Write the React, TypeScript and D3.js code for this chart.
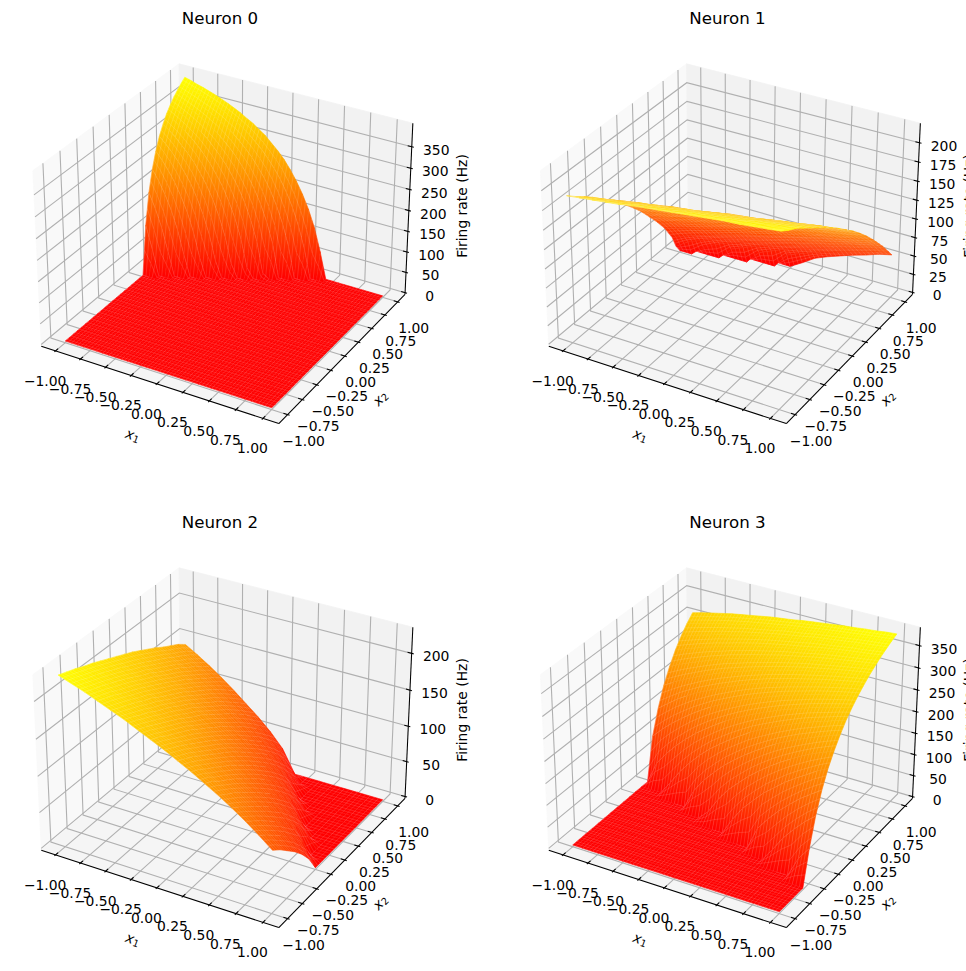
import {useEffect, useRef} from 'react';
import * as d3 from 'd3';

const WIDTH = 966;
const HEIGHT = 971;

const axisTicks = [-1, -0.75, -0.5, -0.25, 0, 0.25, 0.5, 0.75, 1];
const panelTitles = ['Neuron 0', 'Neuron 1', 'Neuron 2', 'Neuron 3'];
const zTicks = [
  [0, 50, 100, 150, 200, 250, 300, 350],
  [0, 25, 50, 75, 100, 125, 150, 175, 200],
  [0, 50, 100, 150, 200],
  [0, 50, 100, 150, 200, 250, 300, 350],
];
const zRanges = [
  [-4, 404],
  [-2.5, 225],
  [-2.5, 235],
  [-4, 391],
];

// rates in Hz, rows run along x2 (see the row lists), columns x1 = -1..1, cells left out are 0
const neuron0Rates = [
  [], [], [], [], [], [], [], [], [], [], [], [], [], [], [], [], [], [], [], [], [],
  [115, 61],
  [186, 152, 110, 56],
  [234, 211, 183, 149, 106, 50],
  [270, 253, 232, 209, 180, 146, 102, 44],
  [298, 284, 269, 251, 230, 207, 177, 141, 97, 37],
  [319, 309, 297, 282, 267, 250, 228, 204, 174, 138, 93, 31],
  [337, 328, 318, 308, 296, 282, 266, 248, 226, 202, 171, 135, 88, 23],
  [351, 344, 336, 327, 317, 307, 295, 280, 264, 246, 224, 199, 169, 131, 84, 10],
  [363, 357, 350, 343, 335, 326, 316, 306, 293, 279, 263, 244, 223, 197, 166, 128, 79],
  [373, 368, 362, 356, 349, 342, 334, 326, 315, 305, 292, 278, 262, 242, 221, 195, 163, 124, 74],
  [382, 377, 372, 367, 361, 356, 349, 342, 333, 325, 315, 304, 291, 277, 260, 241, 219, 192, 160, 120, 69],
  [390, 386, 381, 377, 372, 367, 361, 355, 348, 341, 332, 324, 313, 303, 289, 275, 259, 239, 216, 189, 157, 117, 63],
];

const neuron1Rates = [
  [187, 189, 191, 193, 195, 198, 200, 202, 204, 206, 208, 210, 212, 213, 215, 217, 219],
  [178, 181, 183, 185, 187, 190, 192, 194, 196, 199, 201, 203, 205, 207, 209, 210, 212],
  [170, 172, 174, 177, 179, 182, 184, 186, 189, 191, 193, 195, 197, 200, 202, 204, 206],
  [161, 163, 166, 168, 171, 173, 176, 178, 180, 183, 185, 187, 189, 192, 194, 196, 198],
  [151, 154, 157, 160, 162, 164, 167, 169, 172, 175, 177, 179, 181, 183, 186, 188, 190],
  [141, 144, 147, 150, 153, 156, 158, 160, 163, 166, 168, 170, 173, 175, 178, 180, 182],
  [130, 134, 137, 139, 142, 145, 148, 151, 154, 157, 159, 161, 164, 167, 169, 171, 174],
  [119, 122, 125, 129, 132, 135, 138, 141, 143, 146, 149, 152, 155, 157, 160, 163, 165],
  [107, 111, 114, 117, 120, 124, 126, 130, 133, 136, 139, 141, 144, 148, 151, 153, 156],
  [94, 97, 101, 104, 108, 112, 115, 119, 122, 125, 128, 131, 134, 137, 140, 143, 146],
  [79, 83, 87, 92, 95, 99, 103, 106, 110, 114, 117, 120, 123, 126, 130, 133, 136],
  [64, 69, 73, 77, 81, 85, 89, 93, 97, 101, 104, 108, 112, 115, 118, 121, 125],
  [47, 52, 57, 61, 66, 71, 75, 79, 83, 87, 91, 95, 98, 102, 105, 109, 113],
  [26, 33, 39, 44, 49, 54, 59, 63, 68, 72, 76, 80, 85, 88, 92, 96, 100],
  [10, 21, 28, 34, 40, 45, 50, 55, 59, 64, 69, 73, 77, 81, 85, 89, 93],
  [0, 0, 14, 23, 30, 35, 41, 46, 51, 56, 60, 65, 69, 74, 78, 82, 86],
  [0, 0, 0, 0, 17, 24, 31, 37, 42, 47, 52, 57, 61, 66, 71, 75, 79],
  [0, 0, 0, 0, 0, 0, 18, 25, 32, 38, 43, 48, 53, 58, 62, 67, 71],
  [0, 0, 0, 0, 0, 0, 0, 0, 20, 27, 33, 39, 44, 49, 54, 59, 63],
  [0, 0, 0, 0, 0, 0, 0, 0, 0, 10, 21, 28, 34, 40, 45, 51, 55],
];
const neuron1Rows = [
  -1, -0.875, -0.75, -0.625, -0.5, -0.375, -0.25, -0.125, 0, 0.125, 0.25, 0.375, 0.5, 0.625, 0.6875, 0.75, 0.8125,
  0.875, 0.9375, 1,
];

const neuron2Rates = [
  [227, 221, 215, 208, 201, 194, 186, 178, 170, 161, 152, 142, 132, 121, 109, 96, 82],
  [223, 217, 210, 204, 196, 189, 181, 173, 164, 155, 146, 136, 124, 113, 100, 87, 73],
  [219, 212, 206, 199, 191, 183, 175, 166, 158, 149, 138, 127, 117, 104, 91, 77, 62],
  [214, 208, 201, 193, 186, 178, 169, 160, 151, 141, 131, 120, 108, 95, 81, 67, 51],
  [210, 203, 196, 188, 180, 171, 163, 154, 144, 134, 123, 112, 99, 86, 71, 56, 38],
  [205, 198, 191, 183, 175, 166, 157, 148, 137, 126, 116, 103, 90, 76, 60, 43, 22],
  [200, 193, 185, 177, 168, 160, 150, 140, 130, 119, 107, 94, 80, 66, 49, 30],
  [195, 187, 179, 171, 162, 153, 143, 133, 122, 111, 98, 85, 70, 54, 36],
  [190, 182, 174, 165, 156, 147, 137, 125, 114, 102, 89, 75, 59, 41, 21],
  [185, 176, 167, 159, 150, 139, 129, 118, 105, 93, 79, 64, 47, 28],
  [179, 170, 161, 152, 142, 132, 121, 109, 97, 83, 69, 53, 34],
  [173, 164, 155, 146, 135, 124, 113, 100, 87, 74, 58, 40, 18],
  [167, 158, 149, 138, 128, 117, 105, 92, 77, 63, 46, 25],
  [160, 151, 141, 131, 120, 108, 96, 82, 68, 51, 32],
  [154, 145, 135, 123, 112, 99, 87, 72, 56, 39, 15],
  [148, 138, 126, 116, 103, 90, 76, 61, 44, 23],
  [140, 130, 119, 107, 94, 80, 66, 50, 31],
];

const neuron3Rates = [
  [], [], [], [], [],
  [0, 0, 0, 0, 0, 0, 0, 0, 0, 0, 0, 0, 0, 0, 0, 0, 0, 0, 0, 46, 76],
  [0, 0, 0, 0, 0, 0, 0, 0, 0, 0, 0, 0, 0, 0, 0, 0, 31, 65, 92, 116, 136],
  [0, 0, 0, 0, 0, 0, 0, 0, 0, 0, 0, 0, 0, 0, 52, 81, 106, 128, 148, 165, 181],
  [0, 0, 0, 0, 0, 0, 0, 0, 0, 0, 0, 39, 71, 96, 120, 139, 158, 174, 189, 204, 216],
  [0, 0, 0, 0, 0, 0, 0, 0, 22, 58, 87, 110, 132, 151, 168, 184, 198, 211, 223, 233, 243],
  [0, 0, 0, 0, 0, 0, 45, 76, 101, 124, 143, 161, 177, 192, 206, 218, 229, 239, 249, 258, 266],
  [0, 0, 0, 31, 64, 91, 115, 136, 154, 171, 186, 201, 213, 224, 235, 245, 255, 263, 271, 279, 286],
  [0, 51, 80, 105, 127, 147, 164, 180, 195, 208, 220, 231, 241, 251, 260, 268, 276, 283, 289, 296, 302],
  [96, 119, 139, 157, 174, 189, 203, 215, 226, 237, 247, 256, 265, 273, 280, 287, 294, 300, 306, 311, 316],
  [150, 167, 184, 198, 211, 222, 233, 243, 253, 262, 270, 278, 284, 291, 297, 303, 309, 314, 319, 324, 328],
  [192, 205, 217, 228, 239, 249, 258, 266, 274, 281, 288, 295, 301, 307, 312, 317, 322, 327, 331, 335, 339],
  [224, 235, 245, 254, 263, 271, 279, 285, 292, 298, 304, 310, 315, 320, 325, 329, 333, 337, 341, 345, 348],
  [251, 260, 268, 276, 283, 289, 296, 302, 308, 313, 318, 323, 327, 331, 336, 340, 344, 347, 350, 353, 357],
  [273, 280, 287, 293, 300, 305, 311, 316, 321, 326, 330, 334, 338, 343, 346, 349, 352, 356, 358, 361, 364],
  [291, 297, 303, 309, 314, 319, 324, 328, 332, 336, 341, 344, 347, 351, 354, 357, 360, 363, 366, 368, 371],
  [306, 312, 317, 322, 327, 331, 335, 339, 343, 346, 349, 353, 356, 359, 362, 365, 367, 370, 372, 375, 377],
];

const neuronRates: number[][][] = [neuron0Rates, neuron1Rates, neuron2Rates, neuron3Rates];
const columnCounts = [33, 17, 17, 21];
const rowLists: (number[] | null)[] = [null, neuron1Rows, null, null];

// same camera as a default mplot3d axes: azim -60, elev 30, dist 10
const U = [0.866025, 0.5, 0];
const V = [-0.25, 0.433013, 0.866025];
const W = [0.433013, -0.75, 0.5];
const DIST = 10;
const SCREEN = 2285;
const PANE = 1.1458;
const HALF_XY = 0.5952;
const HALF_Z = 0.4375;
const RATE_GAIN = 1.015; // my readings were taken against a slightly taller z scale
const FONT = '"DejaVu Sans", sans-serif';

const dot = (a: number[], b: number[]) => a[0] * b[0] + a[1] * b[1] + a[2] * b[2];

const drawPanel = (root: any, defs: any, index: number) => {
  const cx = 226.5 + (index % 2) * 507.5;
  const cy = 235 + Math.floor(index / 2) * 504;
  const zRange = zRanges[index];
  const rates = neuronRates[index];
  const cols = columnCounts[index];
  const rows = rates.length;

  const qx = d3.scaleLinear().domain([-PANE, PANE]).range([-HALF_XY, HALF_XY]);
  const qz = d3.scaleLinear().domain(zRange).range([-HALF_Z, HALF_Z]);
  const colPos = d3.scaleLinear().domain([0, cols - 1]).range([-1, 1]);
  const rowScale = d3.scaleLinear().domain([0, rows - 1]).range([-1, 1]);
  const rowPos = (j: number) => rowLists[index]?.[j] ?? rowScale(j);
  const zMax = d3.max(rates, (r) => d3.max(r) ?? 0)! * RATE_GAIN;
  const color = d3.scaleLinear<string>().domain([0, zMax]).range(['#ff0000', '#ffff00']).clamp(true);

  const project = (x: number, y: number, z: number) => {
    const q = [qx(x), qx(y), qz(z)];
    const depth = DIST - dot(W, q);
    return {sx: cx + (SCREEN * dot(U, q)) / depth, sy: cy - (SCREEN * dot(V, q)) / depth, depth};
  };
  const toPath = (pts: {sx: number; sy: number}[], closed = false) =>
    'M' + pts.map((p) => `${p.sx.toFixed(2)},${p.sy.toFixed(2)}`).join('L') + (closed ? 'Z' : '');

  const g = root.append('g');

  // panes
  const lo = -PANE;
  const hi = PANE;
  const [z0, z1] = zRange;
  const panes: [number[][], string][] = [
    [[[lo, lo, z0], [lo, hi, z0], [lo, hi, z1], [lo, lo, z1]], '#f9f9f9'],
    [[[lo, hi, z0], [hi, hi, z0], [hi, hi, z1], [lo, hi, z1]], '#f2f2f2'],
    [[[lo, lo, z0], [hi, lo, z0], [hi, hi, z0], [lo, hi, z0]], '#f5f5f5'],
  ];
  panes.forEach(([corners, fill]) => {
    g.append('path')
      .attr('d', toPath(corners.map((c) => project(c[0], c[1], c[2])), true))
      .attr('fill', fill)
      .attr('stroke', fill)
      .attr('stroke-width', 0.8);
  });

  // grid lines
  const gridLine = (pts: number[][]) => {
    g.append('path')
      .attr('d', toPath(pts.map((c) => project(c[0], c[1], c[2]))))
      .attr('fill', 'none')
      .attr('stroke', '#b0b0b0')
      .attr('stroke-width', 1.1);
  };
  axisTicks.forEach((t) => {
    gridLine([[t, lo, z0], [t, hi, z0], [t, hi, z1]]);
    gridLine([[hi, t, z0], [lo, t, z0], [lo, t, z1]]);
  });
  zTicks[index].forEach((t) => {
    gridLine([[lo, lo, t], [lo, hi, t], [hi, hi, t]]);
  });

  // axis lines and ticks
  const blackLine = (a: number[], b: number[]) => {
    g.append('path')
      .attr('d', toPath([project(a[0], a[1], a[2]), project(b[0], b[1], b[2])]))
      .attr('fill', 'none')
      .attr('stroke', '#000')
      .attr('stroke-width', 1.05);
  };
  blackLine([lo, lo, z0], [hi, lo, z0]);
  blackLine([hi, lo, z0], [hi, hi, z0]);
  blackLine([hi, hi, z0], [hi, hi, z1]);

  const tickOut = (2 * PANE) / 12 * 0.1;
  const tickIn = (2 * PANE) / 12 * 0.2;
  const tickLabel = (x: number, y: number, text: string, rotate = 0) =>
    g.append('text')
      .attr('transform', `translate(${x},${y}) rotate(${rotate})`)
      .attr('text-anchor', 'middle')
      .attr('dominant-baseline', 'central')
      .attr('font-family', FONT)
      .attr('font-size', 13.9)
      .attr('fill', '#000')
      .text(text);
  const fmt = (t: number) => t.toFixed(2).replace('-', '\u2212');

  axisTicks.forEach((t) => {
    blackLine([t, lo - tickOut, z0], [t, lo + tickIn, z0]);
    const p = project(t, lo, z0);
    tickLabel(p.sx - 10.5, p.sy + 30, fmt(t));
    blackLine([hi + tickOut, t, z0], [hi - tickIn, t, z0]);
    const q = project(hi, t, z0);
    tickLabel(q.sx + 16, q.sy + 26, fmt(t));
  });
  zTicks[index].forEach((t) => {
    blackLine([hi + tickOut, hi, t], [hi - tickIn, hi, t]);
    const p = project(hi, hi, t);
    tickLabel(p.sx + 24.5, p.sy + 3, String(t));
  });

  // surface, far facets first
  const at = (i: number, j: number) => (rates[j]?.[i] ?? 0) * RATE_GAIN;
  const facets: any[] = [];
  for (let j = 0; j < rows - 1; j++) {
    for (let i = 0; i < cols - 1; i++) {
      const zs = [at(i, j), at(i + 1, j), at(i + 1, j + 1), at(i, j + 1)];
      const pts = [
        project(colPos(i), rowPos(j), zs[0]),
        project(colPos(i + 1), rowPos(j), zs[1]),
        project(colPos(i + 1), rowPos(j + 1), zs[2]),
        project(colPos(i), rowPos(j + 1), zs[3]),
      ];
      facets.push({pts, zs, depth: d3.mean(pts, (p) => p.depth)!});
    }
  }
  facets.sort((a, b) => b.depth - a.depth);

  const meshCells = Math.round(50 / (cols - 1));
  const surface = g.append('g');
  facets.forEach((f, k) => {
    const {pts, zs} = f;
    const zMean = d3.mean(zs as number[])!;
    let paint = color(zMean);
    const spread = d3.max(zs as number[])! - d3.min(zs as number[])!;
    if (spread > 0) {
      // colour ramp along the steepest screen direction of the facet
      const mx = d3.mean(pts, (p: any) => p.sx)!;
      const my = d3.mean(pts, (p: any) => p.sy)!;
      const ax = (pts[1].sx + pts[2].sx - pts[0].sx - pts[3].sx) / 2;
      const ay = (pts[1].sy + pts[2].sy - pts[0].sy - pts[3].sy) / 2;
      const az = (zs[1] + zs[2] - zs[0] - zs[3]) / 2;
      const bx = (pts[2].sx + pts[3].sx - pts[0].sx - pts[1].sx) / 2;
      const by = (pts[2].sy + pts[3].sy - pts[0].sy - pts[1].sy) / 2;
      const bz = (zs[2] + zs[3] - zs[0] - zs[1]) / 2;
      const det = ax * by - ay * bx;
      if (Math.abs(det) > 1e-3) {
        const gx = (az * by - ay * bz) / det;
        const gy = (ax * bz - az * bx) / det;
        const norm = gx * gx + gy * gy;
        const offs = pts.map((p: any) => (p.sx - mx) * gx + (p.sy - my) * gy);
        const d0 = Math.max(d3.min(offs as number[])!, -zMean);
        const d1 = d3.max(offs as number[])!;
        const id = `ramp-${index}-${k}`;
        const ramp = defs
          .append('linearGradient')
          .attr('id', id)
          .attr('gradientUnits', 'userSpaceOnUse')
          .attr('x1', mx + (gx * d0) / norm)
          .attr('y1', my + (gy * d0) / norm)
          .attr('x2', mx + (gx * d1) / norm)
          .attr('y2', my + (gy * d1) / norm);
        ramp.append('stop').attr('offset', 0).attr('stop-color', color(zMean + d0));
        ramp.append('stop').attr('offset', 1).attr('stop-color', color(zMean + d1));
        paint = `url(#${id})`;
      }
    }
    surface
      .append('path')
      .attr('d', toPath(pts, true))
      .attr('fill', paint)
      .attr('stroke', paint)
      .attr('stroke-width', 0.6)
      .attr('stroke-linejoin', 'round');

    // thin light seams like the antialiased edges of a dense polygon mesh
    let seams = '';
    for (let m = 0; m < meshCells; m++) {
      const t = m / meshCells;
      const a0 = {sx: pts[0].sx + (pts[1].sx - pts[0].sx) * t, sy: pts[0].sy + (pts[1].sy - pts[0].sy) * t};
      const a1 = {sx: pts[3].sx + (pts[2].sx - pts[3].sx) * t, sy: pts[3].sy + (pts[2].sy - pts[3].sy) * t};
      const b0 = {sx: pts[0].sx + (pts[3].sx - pts[0].sx) * t, sy: pts[0].sy + (pts[3].sy - pts[0].sy) * t};
      const b1 = {sx: pts[1].sx + (pts[2].sx - pts[1].sx) * t, sy: pts[1].sy + (pts[2].sy - pts[1].sy) * t};
      seams += toPath([a0, a1]) + toPath([b0, b1]);
    }
    surface
      .append('path')
      .attr('d', seams)
      .attr('fill', 'none')
      .attr('stroke', '#fff')
      .attr('stroke-opacity', 0.26)
      .attr('stroke-width', 0.5);
  });

  // axis names
  const xName = tickLabel(cx - 93.5, cy + 200, '', 20);
  xName.append('tspan').attr('font-style', 'italic').text('x');
  xName.append('tspan').attr('font-size', 9.7).attr('dy', 2.5).text('1');
  const yName = tickLabel(cx + 153.5, cy + 163, '', -45);
  yName.append('tspan').attr('font-style', 'italic').text('x');
  yName.append('tspan').attr('font-size', 9.7).attr('dy', 2.5).text('2');
  tickLabel(cx + 235, cy - 29, 'Firing rate (Hz)', -90);

  g.append('text')
    .attr('x', cx - 6.5)
    .attr('y', cy - 211)
    .attr('text-anchor', 'middle')
    .attr('font-family', FONT)
    .attr('font-size', 16.67)
    .attr('fill', '#000')
    .text(panelTitles[index]);
};

const App = () => {
  const svgRef = useRef<SVGSVGElement>(null);

  useEffect(() => {
    const svg = d3.select(svgRef.current);
    svg.selectAll('*').remove();
    const defs = svg.append('defs');
    panelTitles.forEach((_, i) => drawPanel(svg, defs, i));
  }, []);

  return (
    <svg
      ref={svgRef}
      width={WIDTH}
      height={HEIGHT}
      viewBox={`0 0 ${WIDTH} ${HEIGHT}`}
      style={{position: 'absolute', left: 0, top: 0, background: '#fff'}}
    />
  );
};

export default App;
